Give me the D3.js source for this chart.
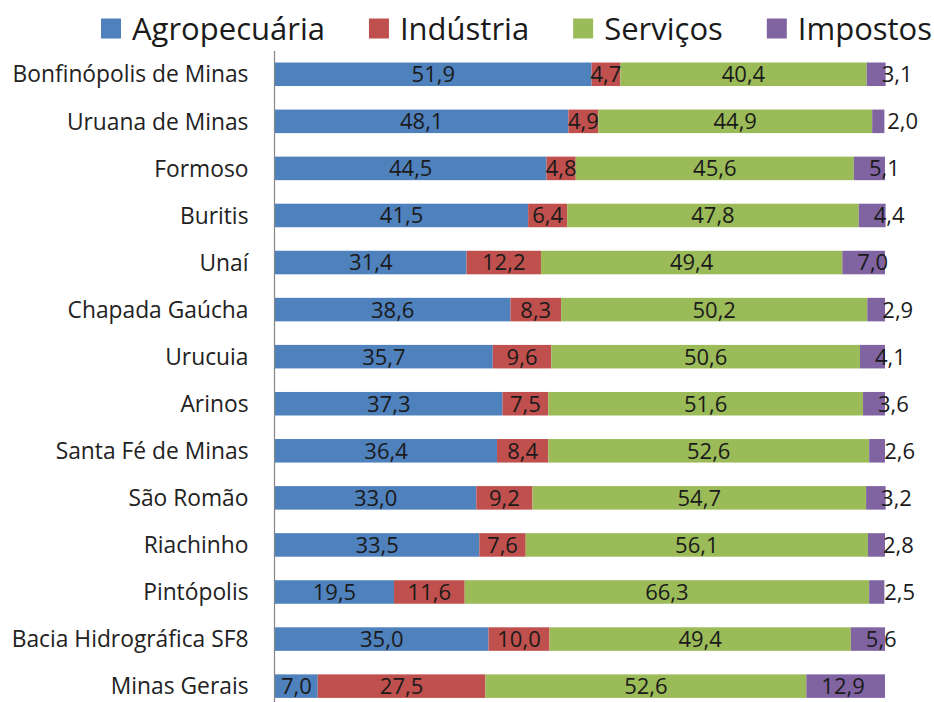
<!DOCTYPE html>
<html>
<head>
<meta charset="utf-8">
<script src="https://cdn.jsdelivr.net/npm/d3@7"></script>
<style>
  html, body { margin: 0; padding: 0; background: #fff; }
  svg { display: block; }
</style>
</head>
<body>
<div id="chart"></div>
<script>
const categories = [
  "Bonfinópolis de Minas", "Uruana de Minas", "Formoso", "Buritis", "Unaí",
  "Chapada Gaúcha", "Urucuia", "Arinos", "Santa Fé de Minas", "São Romão",
  "Riachinho", "Pintópolis", "Bacia Hidrográfica SF8", "Minas Gerais"
];
const seriesNames = ["Agropecuária", "Indústria", "Serviços", "Impostos"];
const agropecuaria = [51.9, 48.1, 44.5, 41.5, 31.4, 38.6, 35.7, 37.3, 36.4, 33.0, 33.5, 19.5, 35.0, 7.0];
const industria    = [4.7, 4.9, 4.8, 6.4, 12.2, 8.3, 9.6, 7.5, 8.4, 9.2, 7.6, 11.6, 10.0, 27.5];
const servicos     = [40.4, 44.9, 45.6, 47.8, 49.4, 50.2, 50.6, 51.6, 52.6, 54.7, 56.1, 66.3, 49.4, 52.6];
const impostos     = [3.1, 2.0, 5.1, 4.4, 7.0, 2.9, 4.1, 3.6, 2.6, 3.2, 2.8, 2.5, 5.6, 12.9];
const seriesColors = ["#4F81BD", "#C0504D", "#9BBB59", "#8064A2"];

const W = 934, H = 702;
const FONT = "'Open Sans', Lato, 'DejaVu Sans', sans-serif";

const svg = d3.select("#chart").append("svg")
  .attr("width", W).attr("height", H)
  .style("font-family", FONT);

const seriesValues = [agropecuaria, industria, servicos, impostos];
const table = categories.map((c, i) => {
  const row = { category: c };
  seriesNames.forEach((s, k) => { row[s] = seriesValues[k][i]; });
  return row;
});
const stacked = d3.stack().keys(seriesNames)(table);

const x = d3.scaleLinear().domain([0, 100]).range([275, 885]);
const y = d3.scaleBand().domain(categories).range([62.5, 697.9]).paddingInner(0.5).paddingOuter(0);
const color = d3.scaleOrdinal().domain(seriesNames).range(seriesColors);

// bars
const layers = svg.append("g").selectAll("g").data(stacked).join("g")
  .attr("fill", d => color(d.key));
layers.selectAll("rect").data(d => d).join("rect")
  .attr("x", d => x(d[0]))
  .attr("y", d => y(d.data.category))
  .attr("width", d => x(d[1]) - x(d[0]))
  .attr("height", y.bandwidth());

// value labels (last series labels sit a little right of the segment start)
const labels = svg.append("g");
stacked.forEach((layer, k) => {
  const last = k === stacked.length - 1;
  labels.selectAll(null).data(layer).join("text")
    .attr("x", d => last ? x(d[0]) + 15 : (x(d[0]) + x(d[1])) / 2)
    .attr("y", d => y(d.data.category) + y.bandwidth() / 2)
    .attr("dy", "0.36em")
    .attr("text-anchor", last ? "start" : "middle")
    .attr("font-size", 22)
    .attr("fill", "#1a1a1a")
    .text(d => d3.format(".1f")(d[1] - d[0]).replace(".", ","));
});

// category axis
const axis = svg.append("g").attr("transform", `translate(274.5,0)`)
  .call(d3.axisLeft(y).tickSize(0).tickPadding(26));
axis.select(".domain").attr("d", `M0,51V${H}`).attr("stroke", "#868686").attr("stroke-width", 1.2);
axis.selectAll(".tick text")
  .attr("font-family", FONT).attr("font-size", 22.8).attr("fill", "#222")
  .attr("dy", "0.36em");

// legend
const legend = svg.append("g");
let lx = 101;
seriesNames.forEach((s, k) => {
  legend.append("rect").attr("x", lx).attr("y", 18.5).attr("width", 20).attr("height", 20)
    .attr("fill", seriesColors[k]);
  const t = legend.append("text").attr("x", lx + 31).attr("y", 28.5).attr("dy", "0.36em")
    .attr("font-size", 31).attr("fill", "#1a1a1a").text(s);
  const w = t.node().getComputedTextLength();
  lx = lx + 31 + w + 44;
});
</script>
</body>
</html>
